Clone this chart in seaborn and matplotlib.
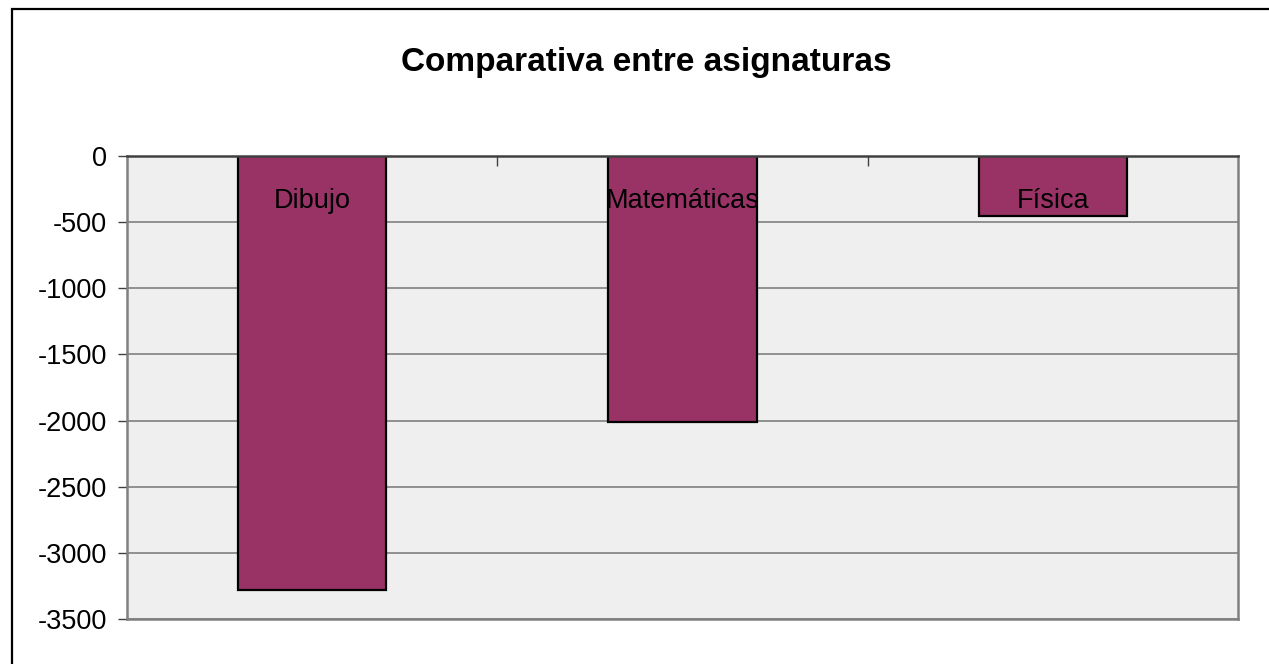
import matplotlib
matplotlib.use("Agg")
import matplotlib.pyplot as plt
import matplotlib.patches as mpatches
import seaborn as sns
import pandas as pd

# datos del grafico
asignaturas = ["Dibujo", "Matemáticas", "Física"]
valores = [-3280, -2010, -450]
ticks_y = [0, -500, -1000, -1500, -2000, -2500, -3000, -3500]

sns.set_style("white")
plt.rcParams['font.family'] = ['Liberation Sans', 'DejaVu Sans']
plt.rcParams['text.color'] = 'black'
plt.rcParams['xtick.color'] = 'black'
plt.rcParams['ytick.color'] = 'black'

df = pd.DataFrame({"asignatura": asignaturas, "valor": valores})

fig = plt.figure(figsize=(12.69, 6.64), dpi=100)
ax = fig.add_axes([127 / 1269, 1 - 619 / 664, (1238 - 127) / 1269, (619 - 156) / 664])
ax.set_facecolor("#efefef")

sns.barplot(data=df, x="asignatura", y="valor", color="#993366", saturation=1,
            width=0.4, edgecolor="black", linewidth=1.6, ax=ax)

ax.set_ylim(-3500, 0)
ax.set_xlim(-0.5, len(asignaturas) - 0.5)
ax.set_yticks(ticks_y)
ax.set_yticklabels([str(v) for v in ticks_y], fontsize=19.5)
ax.set_xlabel("")
ax.set_ylabel("")

# lineas de cuadricula detras de las barras
ax.yaxis.grid(True, color="#808080", linewidth=1.2)
ax.set_axisbelow(True)
ax.xaxis.set_zorder(3)

# etiquetas de categoria justo debajo del eje (arriba)
ax.tick_params(axis="x", which="major", top=True, labeltop=True, bottom=False,
               labelbottom=False, length=0, pad=-42, labelsize=19.5,
               labelcolor="black")
ax.set_xticks([0.5, 1.5], minor=True)
ax.tick_params(axis="x", which="minor", top=True, bottom=False, direction="in",
               length=7, width=1, color="#404040")
ax.tick_params(axis="y", left=True, direction="out", length=6.5, width=1,
               color="#404040", pad=8, labelcolor="black")

for s in ["left", "right", "bottom"]:
    ax.spines[s].set_color("#808080")
    ax.spines[s].set_linewidth(1.8)
ax.spines["top"].set_color("#404040")
ax.spines["top"].set_linewidth(1.8)

fig.text(646 / 1269, 1 - 62 / 664, "Comparativa entre asignaturas", ha="center",
         va="center", fontsize=24, fontweight="bold", color="black")

borde = mpatches.Rectangle((12 / 1269, -0.1), 2, 1 - 9 / 664 + 0.1,
                           transform=fig.transFigure, fill=False,
                           edgecolor="black", linewidth=1.6, clip_on=False)
fig.patches.append(borde)

fig.savefig("out.png", dpi=100)
